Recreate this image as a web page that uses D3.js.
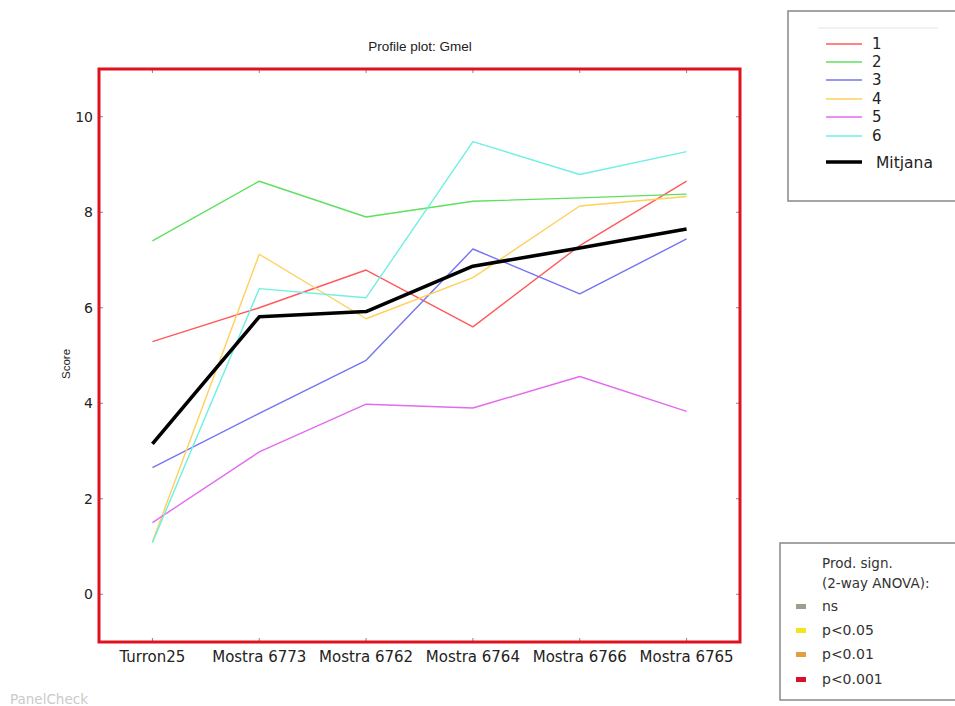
<!DOCTYPE html>
<html>
<head>
<meta charset="utf-8">
<script src="https://cdn.jsdelivr.net/npm/d3@7/dist/d3.min.js"></script>
<style>
  html, body { margin: 0; padding: 0; background: #fff; }
  svg { display: block; }
</style>
</head>
<body>
<svg id="chart" width="955" height="706"></svg>
<script>
// Samples along the x axis
const samples = ["Turron25", "Mostra 6773", "Mostra 6762", "Mostra 6764", "Mostra 6766", "Mostra 6765"];

// Assessor scores per sample
const assessor1 = [5.29, 6.00, 6.79, 5.60, 7.30, 8.65];
const assessor2 = [7.40, 8.65, 7.90, 8.23, 8.30, 8.38];
const assessor3 = [2.65, 3.79, 4.90, 7.23, 6.29, 7.44];
const assessor4 = [1.10, 7.12, 5.77, 6.63, 8.13, 8.33];
const assessor5 = [1.50, 2.98, 3.98, 3.90, 4.56, 3.83];
const assessor6 = [1.08, 6.40, 6.21, 9.48, 8.79, 9.27];
const mitjana   = [3.15, 5.81, 5.92, 6.87, 7.25, 7.65];

const assessorNames = ["1", "2", "3", "4", "5", "6"];
const yTicks = [0, 2, 4, 6, 8, 10];

const signLabels = ["ns", "p<0.05", "p<0.01", "p<0.001"];

const assessorColors = ["#ff5a5a", "#5ee05e", "#7474f4", "#ffd05a", "#e46af0", "#6ef0e2"];
const signColors = ["#9aa090", "#f2e41e", "#e0a040", "#d8102a"];

const series = [assessor1, assessor2, assessor3, assessor4, assessor5, assessor6];

const svg = d3.select("#chart");
const plot = { left: 99, right: 740, top: 69, bottom: 642 };

const x = d3.scalePoint().domain(samples).range([plot.left, plot.right]).padding(0.5);
const y = d3.scaleLinear().domain([-1, 11]).range([plot.bottom, plot.top]);

const line = d3.line()
  .x((d, i) => x(samples[i]))
  .y(d => y(d));

// Title
svg.append("text")
  .attr("x", 420).attr("y", 51)
  .attr("text-anchor", "middle")
  .attr("font-family", "Liberation Sans, Arial, sans-serif")
  .attr("font-size", 13.5)
  .attr("fill", "#222")
  .text("Profile plot: Gmel");

// Y axis label
svg.append("text")
  .attr("transform", "translate(70,364) rotate(-90)")
  .attr("text-anchor", "middle")
  .attr("font-family", "Liberation Sans, Arial, sans-serif")
  .attr("font-size", 11.5)
  .attr("fill", "#222")
  .text("Score");

// Lines for each assessor
const g = svg.append("g");
series.forEach((s, k) => {
  g.append("path")
    .datum(s)
    .attr("d", line)
    .attr("fill", "none")
    .attr("stroke", assessorColors[k])
    .attr("stroke-width", 1.4)
    .attr("stroke-linejoin", "round");
});

// Mean line
g.append("path")
  .datum(mitjana)
  .attr("d", line)
  .attr("fill", "none")
  .attr("stroke", "#000")
  .attr("stroke-width", 3.6)
  .attr("stroke-linejoin", "round");

// Inward ticks on all four sides
const tickG = svg.append("g").attr("stroke", "#888").attr("stroke-width", 1);
yTicks.forEach(t => {
  tickG.append("line").attr("x1", plot.left).attr("x2", plot.left + 4).attr("y1", y(t)).attr("y2", y(t));
  tickG.append("line").attr("x1", plot.right).attr("x2", plot.right - 4).attr("y1", y(t)).attr("y2", y(t));
});
samples.forEach(s => {
  tickG.append("line").attr("x1", x(s)).attr("x2", x(s)).attr("y1", plot.top).attr("y2", plot.top + 4);
  tickG.append("line").attr("x1", x(s)).attr("x2", x(s)).attr("y1", plot.bottom).attr("y2", plot.bottom - 4);
});

// Y tick labels
svg.append("g").selectAll("text").data(yTicks).join("text")
  .attr("x", plot.left - 6)
  .attr("y", d => y(d) + 5)
  .attr("text-anchor", "end")
  .attr("font-family", "DejaVu Sans, Verdana, sans-serif")
  .attr("font-size", 14)
  .attr("fill", "#222")
  .text(d => d);

// X tick labels
svg.append("g").selectAll("text").data(samples).join("text")
  .attr("x", d => x(d))
  .attr("y", 662)
  .attr("text-anchor", "middle")
  .attr("font-family", "DejaVu Sans, Verdana, sans-serif")
  .attr("font-size", 15)
  .attr("fill", "#222")
  .text(d => d);

// Red frame around the plot area
svg.append("rect")
  .attr("x", plot.left).attr("y", plot.top)
  .attr("width", plot.right - plot.left).attr("height", plot.bottom - plot.top)
  .attr("fill", "none")
  .attr("stroke", "#e0121e")
  .attr("stroke-width", 3);

// Assessor legend
const lg = svg.append("g");
lg.append("rect")
  .attr("x", 788).attr("y", 11).attr("width", 180).attr("height", 190)
  .attr("fill", "#fff").attr("stroke", "#888").attr("stroke-width", 1.5);
lg.append("line").attr("x1", 818).attr("x2", 938).attr("y1", 28).attr("y2", 28)
  .attr("stroke", "#e4e4e4").attr("stroke-width", 1);
const legY = [44, 62, 80, 99, 117, 136];
assessorNames.forEach((n, k) => {
  lg.append("line").attr("x1", 826).attr("x2", 862).attr("y1", legY[k]).attr("y2", legY[k])
    .attr("stroke", assessorColors[k]).attr("stroke-width", 1.6);
  lg.append("text").attr("x", 872).attr("y", legY[k] + 5)
    .attr("font-family", "DejaVu Sans, Verdana, sans-serif").attr("font-size", 15)
    .attr("fill", "#222").text(n);
});
lg.append("line").attr("x1", 826).attr("x2", 862).attr("y1", 162).attr("y2", 162)
  .attr("stroke", "#000").attr("stroke-width", 3.6);
lg.append("text").attr("x", 876).attr("y", 168)
  .attr("font-family", "DejaVu Sans, Verdana, sans-serif").attr("font-size", 15.5)
  .attr("fill", "#222").text("Mitjana");

// Significance legend
const sg = svg.append("g");
sg.append("rect")
  .attr("x", 780).attr("y", 543).attr("width", 190).attr("height", 157)
  .attr("fill", "#fff").attr("stroke", "#888").attr("stroke-width", 1.5);
sg.append("text").attr("x", 822).attr("y", 568)
  .attr("font-family", "DejaVu Sans, Verdana, sans-serif").attr("font-size", 13.5)
  .attr("fill", "#333").text("Prod. sign.");
sg.append("text").attr("x", 822).attr("y", 588)
  .attr("font-family", "DejaVu Sans, Verdana, sans-serif").attr("font-size", 13.5)
  .attr("fill", "#333").text("(2-way ANOVA):");
const sigY = [606, 630, 654, 679];
signLabels.forEach((s, k) => {
  sg.append("rect").attr("x", 796).attr("y", sigY[k] - 2).attr("width", 10).attr("height", 5)
    .attr("fill", signColors[k]);
  sg.append("text").attr("x", 822).attr("y", sigY[k] + 5)
    .attr("font-family", "DejaVu Sans, Verdana, sans-serif").attr("font-size", 14)
    .attr("fill", "#333").text(s);
});

// Footer
svg.append("text").attr("x", 10).attr("y", 704)
  .attr("font-family", "DejaVu Sans, Verdana, sans-serif").attr("font-size", 13.5)
  .attr("fill", "#cacaca").text("PanelCheck");
</script>
</body>
</html>
